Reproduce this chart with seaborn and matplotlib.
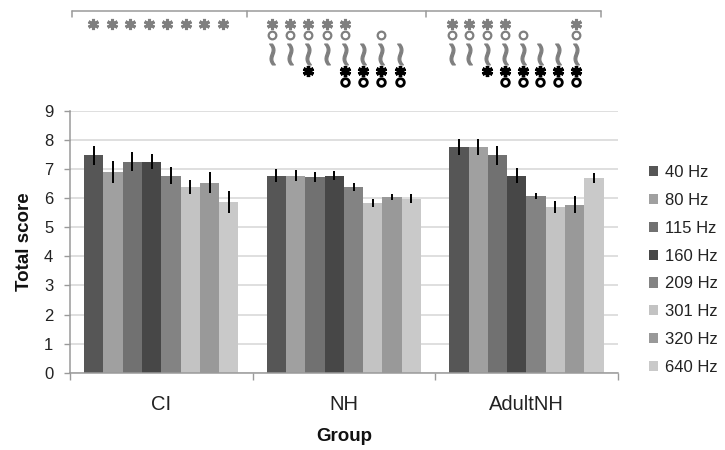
import numpy as np
import pandas as pd
import matplotlib
matplotlib.use("Agg")
import matplotlib.pyplot as plt
from matplotlib.lines import Line2D
import seaborn as sns

# Group means and standard errors of the total score per stimulation frequency
groups = ["CI", "NH", "AdultNH"]
freqs = ["40 Hz", "80 Hz", "115 Hz", "160 Hz", "209 Hz", "301 Hz", "320 Hz", "640 Hz"]
ci_mean = [7.47, 6.90, 7.26, 7.26, 6.78, 6.39, 6.53, 5.87]
nh_mean = [6.78, 6.78, 6.73, 6.78, 6.40, 5.84, 6.04, 5.99]
adult_mean = [7.77, 7.77, 7.47, 6.78, 6.09, 5.70, 5.78, 6.69]
ci_err = [0.34, 0.38, 0.32, 0.27, 0.29, 0.23, 0.36, 0.37]
nh_err = [0.21, 0.18, 0.16, 0.14, 0.14, 0.13, 0.11, 0.17]
adult_err = [0.28, 0.27, 0.32, 0.27, 0.10, 0.22, 0.28, 0.18]
y_ticks = [0, 1, 2, 3, 4, 5, 6, 7, 8, 9]

# Significance marks above each group (indices of frequencies that carry the mark)
gray_star = {"CI": [0, 1, 2, 3, 4, 5, 6, 7], "NH": [0, 1, 2, 3, 4], "AdultNH": [0, 1, 2, 3, 7]}
gray_circle = {"CI": [], "NH": [0, 1, 2, 3, 4, 6], "AdultNH": [0, 1, 2, 3, 4, 7]}
gray_wave = {"CI": [], "NH": [0, 1, 2, 3, 4, 5, 6, 7], "AdultNH": [0, 1, 2, 3, 4, 5, 6, 7]}
black_star = {"CI": [], "NH": [2, 4, 5, 6, 7], "AdultNH": [2, 3, 4, 5, 6, 7]}
black_circle = {"CI": [], "NH": [4, 5, 6, 7], "AdultNH": [3, 4, 5, 6, 7]}

palette = ["#565656", "#a0a0a0", "#717171", "#474747", "#838383", "#c3c3c3", "#999999", "#c9c9c9"]

df = pd.DataFrame({
    "Group": np.repeat(groups, len(freqs)),
    "Frequency": freqs * len(groups),
    "Score": np.concatenate([ci_mean, nh_mean, adult_mean]),
    "SE": np.concatenate([ci_err, nh_err, adult_err]),
})

sns.set_theme(style="white")
plt.rcParams["font.family"] = ["Liberation Sans", "DejaVu Sans"]

fig = plt.figure(figsize=(7.25, 4.5), dpi=100)
ax = fig.add_axes([0.0966, 0.1718, 0.7554, 0.5815])

sns.barplot(data=df, x="Group", y="Score", hue="Frequency", order=groups,
            hue_order=freqs, palette=palette, width=0.845, gap=0,
            errorbar=None, saturation=1, linewidth=0, ax=ax, zorder=2)

# Error bars placed at the centre of each drawn bar (bars ordered group by group)
bars = sorted([p for p in ax.patches if p.get_height() > 0][:len(df)], key=lambda p: p.get_x())
xc = [p.get_x() + p.get_width() / 2 for p in bars]
ax.errorbar(xc, df["Score"].values, yerr=df["SE"].values, fmt="none",
            ecolor="black", elinewidth=1.4, capsize=0, zorder=3)

ax.set_ylim(0, 9)
ax.set_xlim(-0.5, 2.5)
ax.set_yticks(y_ticks)
ax.yaxis.grid(True, color="#d9d9d9", linewidth=1.2, zorder=0)
ax.set_axisbelow(True)

for side in ["top", "right"]:
    ax.spines[side].set_visible(False)
for side in ["left", "bottom"]:
    ax.spines[side].set_color("#9a9a9a")
    ax.spines[side].set_linewidth(1.1)

ax.tick_params(axis="y", direction="out", length=4, width=1, color="#9a9a9a",
               labelsize=12, labelcolor="#222222", pad=8, left=True)
ax.set_xticks(range(len(groups)))
ax.set_xticklabels(groups)
ax.set_xticks([-0.5, 0.5, 1.5, 2.5], minor=True)
ax.tick_params(axis="x", which="major", length=0, labelsize=14.5, labelcolor="#222222", pad=16)
ax.tick_params(axis="x", which="minor", direction="out", length=5, width=1, color="#9a9a9a", bottom=True)

ax.set_xlabel("Group", fontsize=13.5, fontweight="bold", color="#111111", labelpad=10)
ax.set_ylabel("Total score", fontsize=13.5, fontweight="bold", color="#111111", labelpad=8)

sns.move_legend(ax, "center left", bbox_to_anchor=(0.884, 0.400),
                bbox_transform=fig.transFigure, frameon=False, title=None,
                fontsize=12, handlelength=0.55, handleheight=0.55,
                handletextpad=0.4, labelspacing=0.77, borderpad=0)
for t in ax.get_legend().get_texts():
    t.set_color("#222222")

# Bracket spanning the three groups
tr = ax.get_xaxis_transform()
edges = [-0.49, 0.47, 1.45, 2.41]


def row_y(px):
    return (372.7 - px) / 261.7


ytop, ytick = row_y(11), row_y(17)
ax.add_line(Line2D([edges[0], edges[-1]], [ytop, ytop], transform=tr, color="#9a9a9a",
                   lw=1.1, clip_on=False))
for e in edges:
    ax.add_line(Line2D([e, e], [ytop, ytick], transform=tr, color="#9a9a9a",
                       lw=1.1, clip_on=False))

# Significance symbols above the bars
col_start = {"CI": -0.374, "NH": -0.394, "AdultNH": -0.409}
col_step = {"CI": 0.1016, "NH": 0.1000, "AdultNH": 0.0970}


def draw_row(marks, px, **style):
    for gi, g in enumerate(groups):
        idx = marks[g]
        if not idx:
            continue
        xs = [gi + col_start[g] + i * col_step[g] for i in idx]
        ax.plot(xs, [row_y(px)] * len(xs), linestyle="none", transform=tr,
                clip_on=False, zorder=5, **style)


gray = "#7f7f7f"
draw_row(gray_star, 24, marker=(6, 2, 0), ms=8, mew=2.2, color=gray)
draw_row(gray_circle, 34.5, marker="o", ms=5.5, mfc="white", mec=gray, mew=1.6)
draw_row(gray_wave, 53.5, marker=r"$\wr$", ms=15, color=gray, mew=0.9)
draw_row(black_star, 71, marker=(6, 2, 0), ms=8, mew=2.4, color="black")
draw_row(black_circle, 82, marker="o", ms=5.5, mfc="white", mec="black", mew=2)

fig.savefig("out.png", dpi=100)
